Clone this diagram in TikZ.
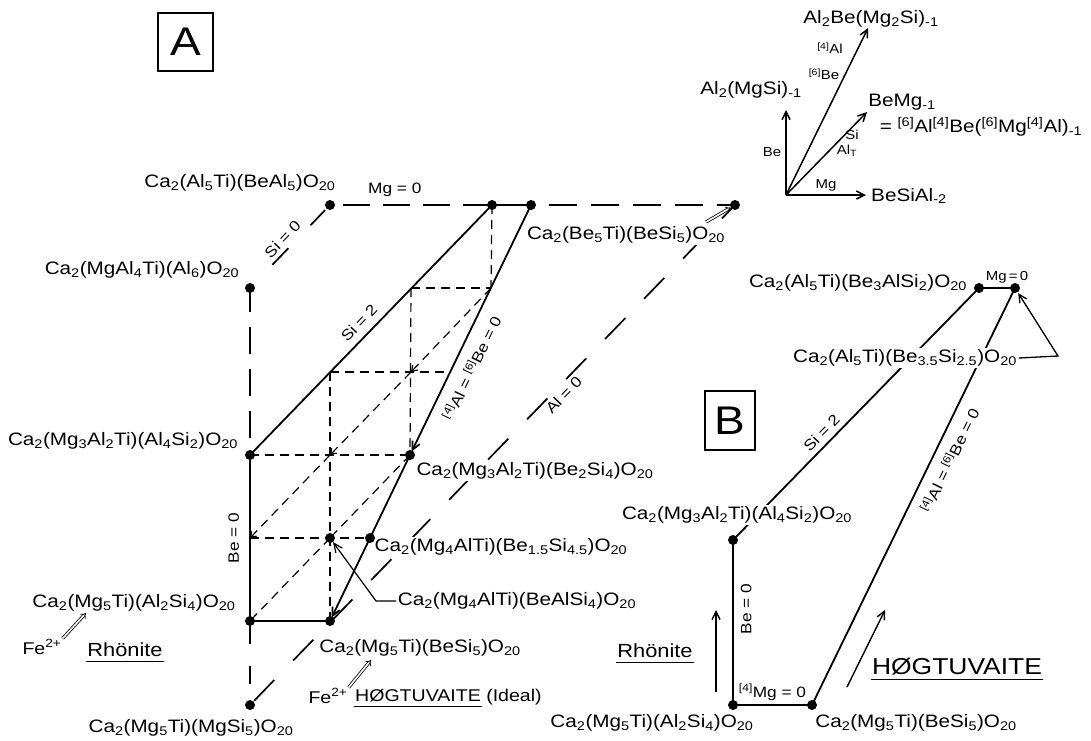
\documentclass[tikz,border=0pt]{standalone}
\usepackage{fontspec}
\setmainfont{Liberation Sans}[FakeStretch=1.15]
\usetikzlibrary{arrows.meta}
\newcommand{\dn}[1]{\textsubscript{#1}}
\newcommand{\up}[1]{\textsuperscript{#1}}
\begin{document}
\begin{tikzpicture}[x=1pt,y=-1pt,
  lab/.style={font=\fontsize{18}{20}\selectfont, inner sep=1.5pt, fill=white},
  vlab/.style={font=\fontsize{18}{20}\selectfont, inner sep=1pt},
  eq/.style={font=\fontsize{15}{17}\selectfont, inner sep=1pt},
  sm/.style={font=\fontsize{13}{15}\selectfont, inner sep=1pt},
  rh/.style={font=\fontsize{19}{21}\selectfont, inner sep=1pt},
  hg/.style={font=\fontsize{17}{19}\selectfont, inner sep=1pt},
  hgb/.style={font=\fontsize{23}{25}\selectfont, inner sep=1pt},
  fe/.style={font=\fontsize{17}{19}\selectfont, inner sep=1pt},
  dot/.style={circle, fill=black, inner sep=0pt, minimum size=10pt},
  sl/.style={line width=1.8pt},
  ld/.style={line width=1.7pt},
  sd/.style={line width=1.2pt, dash pattern=on 9pt off 6pt},
  tip/.style={-{Straight Barb[length=8pt,width=8pt]}},
  gtip/.style={-{Straight Barb[length=5pt,width=7pt]}},
  dbl/.style={double, double distance=1.6pt, line width=0.8pt, -{Implies[length=6pt]}},
  boxl/.style={draw, line width=1.2pt, font=\fontsize{40}{40}\selectfont, inner sep=0pt}
]
\useasboundingbox (0,0) rectangle (1091,740);

% ---------- coordinates of diagram A ----------
\coordinate (pBeAl) at (330,205);
\coordinate (pMgAl4) at (250,288);
\coordinate (pT1) at (492,205);
\coordinate (pT2) at (531,205);
\coordinate (pBe5) at (735,205);
\coordinate (pAl4Si2) at (250,455);
\coordinate (pBe2Si4) at (410,455);
\coordinate (pBe15) at (370,538);
\coordinate (pBeAlSi4) at (330,538);
\coordinate (pAl2Si4) at (250,621);
\coordinate (pBeSi5) at (330,621);
\coordinate (pMgSi5) at (250,705);
\coordinate (g1) at (411,288);
\coordinate (g2) at (491,288);
\coordinate (g3) at (330,372);
\coordinate (g4) at (450,372);
\coordinate (g5) at (411,372);
\coordinate (g6) at (330,455);
\coordinate (g7) at (250,538);

% ---------- coordinates of diagram B ----------
\coordinate (pB1) at (979,288);
\coordinate (pB2) at (1015,288);
\coordinate (pB3) at (733,540);
\coordinate (pB4) at (733,705);
\coordinate (pB5) at (812,705);

% ---------- inner short-dashed grid ----------
\draw[sd] (pT1) -- (g2);
\draw[sd] (g1) -- (g2);
\draw[sd] (g1) -- (pBe2Si4);
\draw[sd] (g3) -- (g4);
\draw[sd] (g3) -- (pBeSi5);
\draw[sd] (pAl4Si2) -- (pBe2Si4);
\draw[sd] (g7) -- (pBe15);
\draw[sd, gtip] (g2) -- (g5);
\draw[sd, gtip] (g5) -- (g6);
\draw[sd, gtip] (g6) -- (g7);
\draw[sd] (pBe2Si4) -- (pBeAlSi4);
\draw[sd] (pBeAlSi4) -- (pAl2Si4);

% ---------- long-dashed edges ----------
\draw[ld, dash pattern=on 27pt off 13pt, dash phase=27pt] (pBeAl) -- node[eq, pos=0.4, above=7pt]{Mg = 0} (pT1);
\draw[ld, dash pattern=on 28pt off 14pt, dash phase=24pt] (pT2) -- (pBe5);
\draw[ld, dash pattern=on 0pt off 7pt on 21pt off 32pt on 23pt off 100pt] (pBeAl) -- node[eq, pos=0.5, sloped, above=3pt]{Si = 0} (pMgAl4);
\draw[ld, dash pattern=on 27pt off 15pt, dash phase=3pt] (pMgAl4) -- (pAl4Si2);
\draw[ld, dash pattern=on 18pt off 22pt, dash phase=35pt] (pAl2Si4) -- (pMgSi5);
\draw[ld, dash pattern=on 29pt off 27pt, dash phase=50pt] (pMgSi5) -- node[eq, pos=0.633, sloped, below=2pt]{Al = 0} (pBe5);

% ---------- solid edges of A ----------
\draw[sl] (pAl4Si2) -- node[eq, pos=0.49, sloped, above=6pt]{Si = 2} (pT1);
\draw[sl] (pT1) -- (pT2);
\draw[sl, tip, shorten >=4pt] (pT2) -- node[eq, pos=0.62, sloped, below=9pt]{\up{[4]}Al = \up{[6]}Be = 0} (pBe2Si4);
\draw[sl] (pBe2Si4) -- (pBe15);
\draw[sl, tip, shorten >=4pt] (pBe15) -- (pBeSi5);
\draw[sl] (pAl2Si4) -- node[eq, sloped, above=9pt]{Be = 0} (pAl4Si2);
\draw[sl] (pAl2Si4) -- (pBeSi5);

% ---------- solid edges of B ----------
\draw[sl] (pB1) -- node[sm, above=3pt, xshift=10pt]{Mg\,=\,0} (pB2);
\draw[sl] (pB1) -- node[eq, pos=0.607, sloped, above=4pt]{Si = 2} (pB3);
\draw[sl] (pB2) -- node[eq, pos=0.395, sloped, below=8pt]{\up{[4]}Al = \up{[6]}Be = 0} (pB5);
\draw[sl] (pB4) -- node[eq, pos=0.58, sloped, below=6pt]{Be = 0} (pB3);
\draw[sl] (pB4) -- node[eq, above=3pt]{\up{[4]}Mg = 0} (pB5);

% ---------- boxes ----------
\node[boxl, minimum width=55pt, minimum height=58pt] (boxA) at (185.5,42) {A};
\node[boxl, minimum width=50pt, minimum height=59pt] (boxB) at (730,420.5) {B};

% ---------- labels of A ----------
\node[lab] (lBeAl5) at (240,183) {Ca\dn{2}(Al\dn{5}Ti)(BeAl\dn{5})O\dn{20}};
\node[lab] (lMgAl4) at (142,270) {Ca\dn{2}(MgAl\dn{4}Ti)(Al\dn{6})O\dn{20}};
\node[lab] (lBe5) at (626,235) {Ca\dn{2}(Be\dn{5}Ti)(BeSi\dn{5})O\dn{20}};
\node[lab] (lAAl4Si2) at (123,441) {Ca\dn{2}(Mg\dn{3}Al\dn{2}Ti)(Al\dn{4}Si\dn{2})O\dn{20}};
\node[lab] (lBe2Si4) at (535,471) {Ca\dn{2}(Mg\dn{3}Al\dn{2}Ti)(Be\dn{2}Si\dn{4})O\dn{20}};
\node[lab] (lBe15) at (501,547) {Ca\dn{2}(Mg\dn{4}AlTi)(Be\dn{1.5}Si\dn{4.5})O\dn{20}};
\node[lab] (lBeAlSi4) at (517,601) {Ca\dn{2}(Mg\dn{4}AlTi)(BeAlSi\dn{4})O\dn{20}};
\node[lab] (lAAl2Si4) at (134,603) {Ca\dn{2}(Mg\dn{5}Ti)(Al\dn{2}Si\dn{4})O\dn{20}};
\node[lab] (lABeSi5) at (420,648) {Ca\dn{2}(Mg\dn{5}Ti)(BeSi\dn{5})O\dn{20}};
\node[lab] (lMgSi5) at (191,728) {Ca\dn{2}(Mg\dn{5}Ti)(MgSi\dn{5})O\dn{20}};

\node[fe] (fe1) at (42,647) {Fe\up{2+}};
\node[fe] (fe2) at (328,696) {Fe\up{2+}};
\node[rh] (rhA) at (125,650) {Rhönite};
\node[hg] (hgA) at (418,696) {HØGTUVAITE};
\node[hg] (ideal) at (514,697) {(Ideal)};
\draw[line width=1pt] ([yshift=-3pt]rhA.south west) -- ([yshift=-3pt]rhA.south east);
\draw[line width=1pt] ([yshift=-3pt]hgA.south west) -- ([yshift=-3pt]hgA.south east);

\coordinate (f1t) at (86,613);
\coordinate (f2t) at (371,660);
\coordinate (b5s) at (706,222);
\coordinate (lk) at (376,601);
\draw[dbl] (fe1.north east) -- (f1t);
\draw[dbl] (fe2.north east) -- (f2t);
\draw[dbl, shorten >=5pt] (b5s) -- (pBe5);
\draw[line width=1.2pt, -{Straight Barb[length=9pt,width=8pt]}, shorten >=5pt] (lBeAlSi4.west) -- (lk) -- (pBeAlSi4);

% ---------- labels of B ----------
\node[lab] (lBe3) at (858,283) {Ca\dn{2}(Al\dn{5}Ti)(Be\dn{3}AlSi\dn{2})O\dn{20}};
\node[lab] (lBe35) at (905,358) {Ca\dn{2}(Al\dn{5}Ti)(Be\dn{3.5}Si\dn{2.5})O\dn{20}};
\node[lab] (lBAl4Si2) at (737,515) {Ca\dn{2}(Mg\dn{3}Al\dn{2}Ti)(Al\dn{4}Si\dn{2})O\dn{20}};
\node[lab] (lBAl2Si4) at (652,723) {Ca\dn{2}(Mg\dn{5}Ti)(Al\dn{2}Si\dn{4})O\dn{20}};
\node[lab] (lBBeSi5) at (916,723) {Ca\dn{2}(Mg\dn{5}Ti)(BeSi\dn{5})O\dn{20}};
\node[rh] (rhB) at (655,651) {Rhönite};
\node[hgb] (hgB) at (957,667) {HØGTUVAITE};
\draw[line width=1pt] ([yshift=-3pt]rhB.south west) -- ([yshift=-3pt]rhB.south east);
\draw[line width=1.1pt] ([yshift=-3pt]hgB.south west) -- ([yshift=-3pt]hgB.south east);

\coordinate (bk) at (1058,356);
\draw[line width=1.3pt, tip, shorten >=6pt] (lBe35.east) -- (bk) -- (pB2);
\coordinate (rb1) at (716,692);
\coordinate (rb2) at (716,610);
\coordinate (hb1) at (847,687);
\coordinate (hb2) at (885,610);
\draw[line width=1.4pt, tip] (rb1) -- (rb2);
\draw[line width=1.4pt, tip] (hb1) -- (hb2);

% ---------- vector diagram ----------
\coordinate (vO) at (786,195);
\coordinate (vBe) at (786,110);
\coordinate (vAB) at (868,28);
\coordinate (vBM) at (867,112);
\coordinate (vMg) at (866,195);
\draw[line width=1.5pt, tip] (vO) -- node[sm, left=3pt]{Be} (vBe);
\draw[line width=1.5pt, tip] (vO) -- (vAB);
\draw[line width=1.5pt, tip] (vO) -- (vBM);
\draw[line width=1.5pt, tip] (vO) -- node[sm, above=2pt]{Mg} (vMg);
\node[vlab] (tAB) at (871,19) {Al\dn{2}Be(Mg\dn{2}Si)\dn{-1}};
\node[vlab] (tAM) at (751,90) {Al\dn{2}(MgSi)\dn{-1}};
\node[vlab] (tBM) at (902,102) {BeMg\dn{-1}};
\node[vlab] (tEq) at (981,127) {= \up{[6]}Al\up{[4]}Be(\up{[6]}Mg\up{[4]}Al)\dn{-1}};
\node[vlab, anchor=west] (tBS) at (870,196) {BeSiAl\dn{-2}};
\node[sm] (t4Al) at (830,48) {\up{[4]}Al};
\node[sm] (t6Be) at (824,74) {\up{[6]}Be};
\node[sm] (tSi) at (852,135) {Si};
\node[sm] (tAlT) at (847,151) {Al\dn{T}};

% ---------- dots ----------
\foreach \p in {pBeAl,pMgAl4,pT1,pT2,pBe5,pAl4Si2,pBe2Si4,pBe15,pBeAlSi4,pAl2Si4,pBeSi5,pMgSi5,pB1,pB2,pB3,pB4,pB5}
  \node[dot] at (\p) {};
\end{tikzpicture}
\end{document}
